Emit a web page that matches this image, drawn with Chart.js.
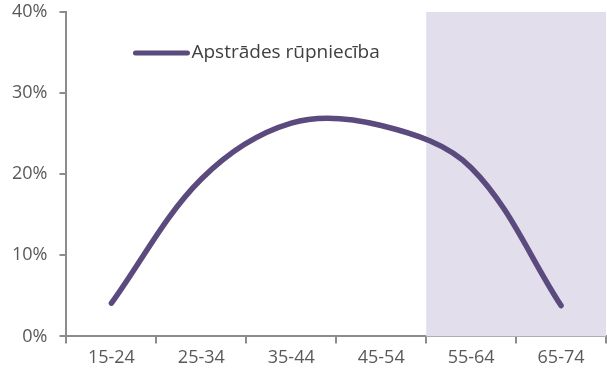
<!DOCTYPE html>
<html>
<head>
<meta charset="utf-8">
<script src="https://cdn.jsdelivr.net/npm/chart.js@4/dist/chart.umd.min.js"></script>
<style>
  html, body { margin: 0; padding: 0; background: #ffffff; }
  #wrap { position: relative; width: 607px; height: 374px; }
</style>
</head>
<body>
<div id="wrap"><canvas id="c" width="607" height="374"></canvas></div>
<script>
const categories = ["15-24", "25-34", "35-44", "45-54", "55-64", "65-74"];
const seriesName = "Apstrādes rūpniecība";
const seriesValues = [4.1, 19.4, 26.3, 26.0, 20.8, 3.8];
const yTicks = [0, 10, 20, 30, 40];
const shadedFromIndex = 4;

const lineColor = "#5b4a7e";
const shadeColor = "#e3deec";
const axisColor = "#8c8c8c";
const textColor = "#595959";
const fontFamily = "'Open Sans', 'Noto Sans', sans-serif";

const shadePlugin = {
  id: "shade",
  beforeDatasetsDraw(chart) {
    const { ctx, chartArea, scales } = chart;
    const x = scales.x;
    const left = (x.getPixelForValue(shadedFromIndex - 1) + x.getPixelForValue(shadedFromIndex)) / 2;
    ctx.save();
    ctx.fillStyle = shadeColor;
    ctx.fillRect(left, chartArea.top, chartArea.right - left, chartArea.bottom - chartArea.top);
    ctx.restore();
  }
};

const legendPlugin = {
  id: "customLegend",
  afterDraw(chart) {
    const { ctx, chartArea } = chart;
    const x0 = chartArea.left + 69, y0 = chartArea.top + 41;
    ctx.save();
    ctx.strokeStyle = lineColor;
    ctx.lineWidth = 5;
    ctx.lineCap = "round";
    ctx.beginPath();
    ctx.moveTo(x0, y0);
    ctx.lineTo(x0 + 52, y0);
    ctx.stroke();
    ctx.fillStyle = "#404040";
    ctx.font = "19px " + fontFamily;
    ctx.textBaseline = "middle";
    ctx.fillText(chart.data.datasets[0].label, x0 + 56, y0);
    ctx.restore();
  }
};

new Chart(document.getElementById("c"), {
  type: "line",
  data: {
    labels: categories,
    datasets: [{
      label: seriesName,
      data: seriesValues,
      borderColor: lineColor,
      borderWidth: 5.5,
      borderCapStyle: "round",
      borderJoinStyle: "round",
      pointRadius: 0,
      pointHoverRadius: 0,
      tension: 0.35,
      fill: false
    }]
  },
  options: {
    responsive: false,
    animation: false,
    devicePixelRatio: 1,
    layout: { padding: { top: 12, right: 1, left: 0, bottom: 1 } },
    plugins: { legend: { display: false }, tooltip: { enabled: false } },
    scales: {
      x: {
        offset: true,
        grid: { drawOnChartArea: false, drawTicks: true, tickLength: 7, color: axisColor, lineWidth: 2, offset: true },
        border: { color: axisColor, width: 2 },
        ticks: { color: textColor, font: { family: fontFamily, size: 18 }, padding: 4, maxRotation: 0 }
      },
      y: {
        min: 0, max: 40,
        afterBuildTicks(axis) { axis.ticks = yTicks.map(v => ({ value: v })); },
        afterFit(axis) { axis.paddingTop = 0; axis.paddingBottom = 0; },
        grid: { drawOnChartArea: false, drawTicks: true, tickLength: 7, color: axisColor, lineWidth: 2 },
        border: { color: axisColor, width: 2 },
        ticks: { color: textColor, font: { family: fontFamily, size: 18 }, padding: 12, callback: v => v + "%" }
      }
    }
  },
  plugins: [shadePlugin, legendPlugin]
});
</script>
</body>
</html>
